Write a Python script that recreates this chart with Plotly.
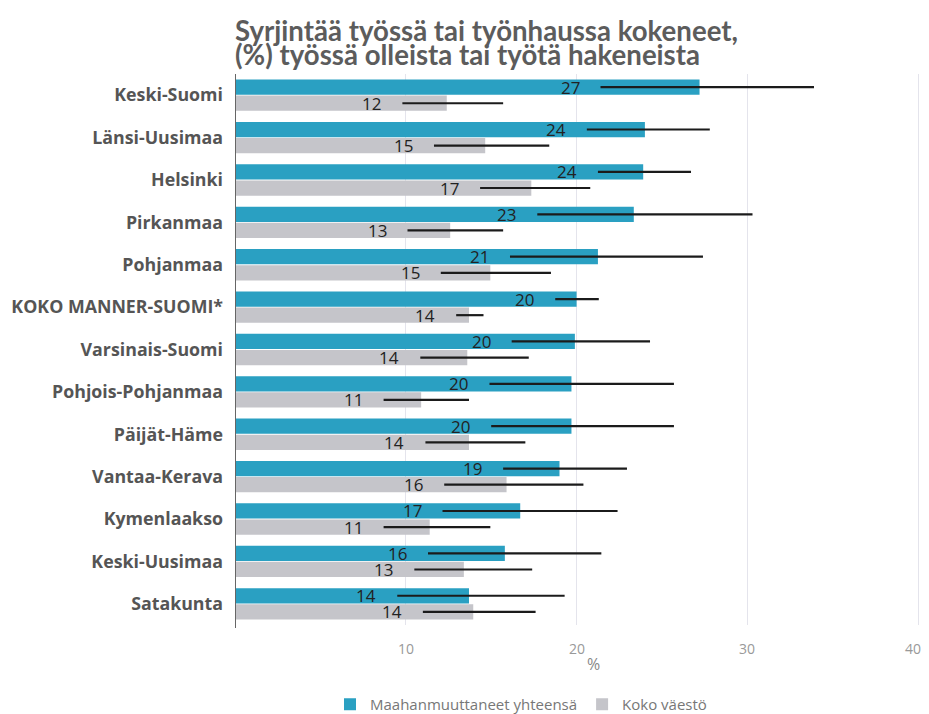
import plotly.graph_objects as go

categories = ["Keski-Suomi", "Länsi-Uusimaa", "Helsinki", "Pirkanmaa", "Pohjanmaa",
              "KOKO MANNER-SUOMI*", "Varsinais-Suomi", "Pohjois-Pohjanmaa", "Päijät-Häme",
              "Vantaa-Kerava", "Kymenlaakso", "Keski-Uusimaa", "Satakunta"]
immigrants = [27.2, 24.0, 23.9, 23.35, 21.25, 20.0, 19.9, 19.7, 19.7, 19.0, 16.7, 15.8, 13.7]
immigrants_lo = [21.4, 20.6, 21.25, 17.7, 16.1, 18.75, 16.2, 14.9, 15.0, 15.7, 12.15, 11.3, 9.5]
immigrants_hi = [33.9, 27.8, 26.7, 30.3, 27.4, 21.3, 24.3, 25.7, 25.7, 22.95, 22.4, 21.45, 19.3]
population = [12.4, 14.65, 17.35, 12.6, 14.95, 13.7, 13.6, 10.9, 13.7, 15.9, 11.4, 13.4, 13.95]
population_lo = [9.8, 11.65, 14.35, 10.1, 12.05, 12.95, 10.85, 8.7, 11.15, 12.25, 8.7, 10.5, 11.0]
population_hi = [15.7, 18.4, 20.8, 15.7, 18.5, 14.55, 17.2, 13.7, 17.0, 20.4, 14.95, 17.4, 17.6]
x_ticks = [10, 20, 30, 40]
title_lines = ["Syrjintää työssä tai työnhaussa kokeneet,", "(%) työssä olleista tai työtä hakeneista"]
x_title = "%"

BLUE = "#2aa0c2"
GREY = "#c5c5ca"
OFF = 0.19
W = 0.36

W_FIG, H_FIG = 929, 714
SHIFT = 8  # page body margin offset between figure and screenshot
M_L, M_T = 227, 66
X_MAX = 40.4
PLOT_W = round(X_MAX * 17.07)
M_R = W_FIG - M_L - PLOT_W
M_B = H_FIG - (625 - SHIFT)
PLOT_H = H_FIG - M_T - M_B


def py(screen_y):
    return (H_FIG - M_B - (screen_y - SHIFT)) / PLOT_H


def px(screen_x):
    return (screen_x - SHIFT - M_L) / PLOT_W


pos = list(range(len(categories)))
y_blue = [p - OFF for p in pos]
y_grey = [p + OFF for p in pos]

fig = go.Figure()
fig.add_trace(go.Bar(
    name="Maahanmuuttaneet yhteensä", orientation="h", x=immigrants, y=y_blue, width=W,
    marker=dict(color=BLUE, line=dict(width=0)),
    error_x=dict(type="data", symmetric=False,
                 array=[h - v for h, v in zip(immigrants_hi, immigrants)],
                 arrayminus=[v - l for l, v in zip(immigrants_lo, immigrants)],
                 color="#1b1b1b", thickness=2.2, width=0),
))
fig.add_trace(go.Bar(
    name="Koko väestö", orientation="h", x=population, y=y_grey, width=W,
    marker=dict(color=GREY, line=dict(width=0)),
    error_x=dict(type="data", symmetric=False,
                 array=[h - v for h, v in zip(population_hi, population)],
                 arrayminus=[v - l for l, v in zip(population_lo, population)],
                 color="#1b1b1b", thickness=2.2, width=0),
))

annotations = []
for vals, los, ys in [(immigrants, immigrants_lo, y_blue), (population, population_lo, y_grey)]:
    for v, lo, yy in zip(vals, los, ys):
        annotations.append(dict(
            x=lo, y=yy, xref="x", yref="y", text=f"{v:.0f}", showarrow=False,
            xanchor="right", yanchor="middle", xshift=-19,
            font=dict(family="Open Sans", size=17, color="#222222")))

for line, cy in zip(title_lines, [30.5, 54.5]):
    annotations.append(dict(
        x=px(233), y=py(cy), xref="paper", yref="paper", text=f"<b>{line}</b>", showarrow=False,
        xanchor="left", yanchor="middle",
        font=dict(family="Lato", size=27.6, color="#5c5c5c")))

annotations.append(dict(
    x=px(593), y=py(664), xref="paper", yref="paper", text=x_title, showarrow=False,
    xanchor="center", yanchor="middle",
    font=dict(family="Open Sans", size=16, color="#888888")))

# x tick labels placed on the x scale (last one nudged so it stays inside the visible page)
tick_font = dict(family="Open Sans", size=14, color="#999999")
for t in x_ticks:
    annotations.append(dict(
        x=t, y=py(648), xref="x", yref="paper", text=str(t), showarrow=False,
        xanchor="center", yanchor="middle", xshift=(-5 if t == x_ticks[-1] else 0), font=tick_font))

fig.update_layout(
    width=W_FIG, height=H_FIG,
    margin=dict(l=M_L, r=M_R, t=M_T, b=M_B, autoexpand=False),
    paper_bgcolor="white", plot_bgcolor="white",
    barmode="overlay",
    xaxis=dict(range=[0, X_MAX], tickvals=x_ticks, showticklabels=False,
               showgrid=True, gridcolor="#e4e4ec", gridwidth=1,
               zeroline=False, showline=False, ticks="", automargin=False),
    yaxis=dict(range=[12.5, -0.5], tickvals=pos, ticktext=categories, showgrid=False, zeroline=False,
               showline=False, ticks="", automargin=False, ticklabelstandoff=11,
               tickfont=dict(family="Open Sans", size=17.8, color="#555555", weight="bold")),
    legend=dict(orientation="h", x=px(521), xanchor="center", xref="paper",
                y=1 - (688 - SHIFT) / H_FIG, yanchor="top", yref="container",
                font=dict(family="Open Sans", size=15, color="#777777"), traceorder="normal"),
    annotations=annotations,
    showlegend=True,
)
fig.add_shape(type="line", xref="x", yref="paper", x0=0, x1=0, y0=py(628), y1=1,
              line=dict(color="#666666", width=2))
fig.write_html("out.html")
